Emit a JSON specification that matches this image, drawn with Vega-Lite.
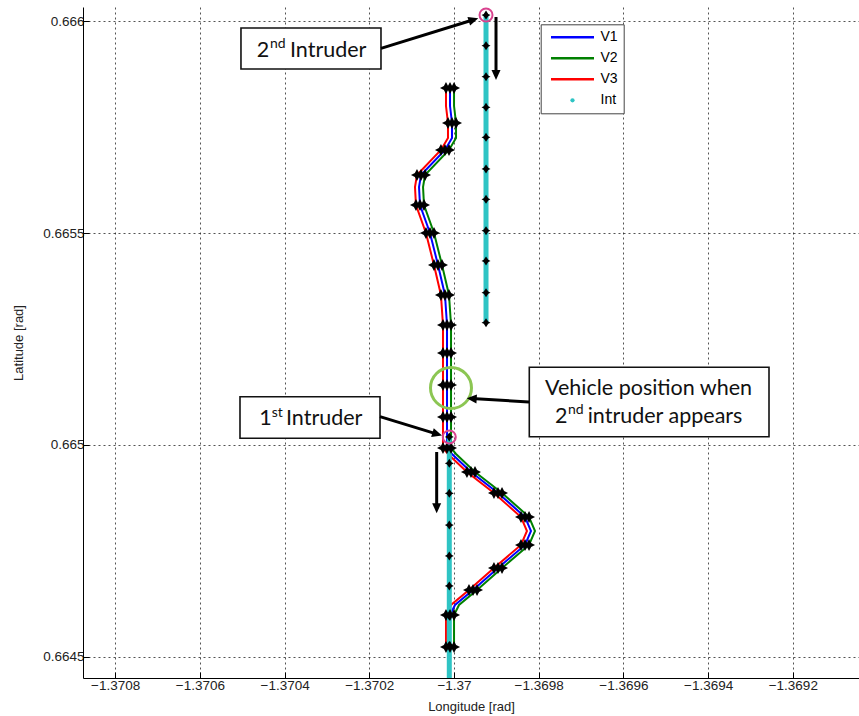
{
  "$schema": "https://vega.github.io/schema/vega-lite/v6.json",
  "width": 776,
  "height": 671,
  "autosize": {"type": "none"},
  "padding": {"left": 83, "top": 7, "right": 0, "bottom": 38},
  "background": "white",
  "datasets": {
    "veh": [
      {"s":"V1","i":1,"lon":-1.3700094,"lat":0.6645234,"mk":1},
      {"s":"V1","i":2,"lon":-1.3700094,"lat":0.6645989,"mk":1},
      {"s":"V1","i":3,"lon":-1.3699976,"lat":0.6646225,"mk":0},
      {"s":"V1","i":4,"lon":-1.3699551,"lat":0.6646579,"mk":1},
      {"s":"V1","i":5,"lon":-1.3698961,"lat":0.6647098,"mk":1},
      {"s":"V1","i":6,"lon":-1.3698323,"lat":0.664764,"mk":1},
      {"s":"V1","i":7,"lon":-1.3698182,"lat":0.6647971,"mk":0},
      {"s":"V1","i":8,"lon":-1.3698323,"lat":0.6648301,"mk":1},
      {"s":"V1","i":9,"lon":-1.3698961,"lat":0.6648867,"mk":1},
      {"s":"V1","i":10,"lon":-1.3699599,"lat":0.6649363,"mk":1},
      {"s":"V1","i":11,"lon":-1.3700047,"lat":0.6649788,"mk":0},
      {"s":"V1","i":12,"lon":-1.3700165,"lat":0.6649929,"mk":1},
      {"s":"V1","i":13,"lon":-1.3700165,"lat":0.6650661,"mk":1},
      {"s":"V1","i":14,"lon":-1.3700165,"lat":0.6651416,"mk":1},
      {"s":"V1","i":15,"lon":-1.3700165,"lat":0.6652171,"mk":1},
      {"s":"V1","i":16,"lon":-1.3700165,"lat":0.6652832,"mk":1},
      {"s":"V1","i":17,"lon":-1.3700213,"lat":0.6653539,"mk":1},
      {"s":"V1","i":18,"lon":-1.3700378,"lat":0.6654247,"mk":1},
      {"s":"V1","i":19,"lon":-1.3700567,"lat":0.6655002,"mk":1},
      {"s":"V1","i":20,"lon":-1.3700803,"lat":0.6655663,"mk":1},
      {"s":"V1","i":21,"lon":-1.3700826,"lat":0.6656088,"mk":0},
      {"s":"V1","i":22,"lon":-1.3700779,"lat":0.6656371,"mk":1},
      {"s":"V1","i":23,"lon":-1.3700213,"lat":0.6656961,"mk":1},
      {"s":"V1","i":24,"lon":-1.3700047,"lat":0.6657244,"mk":0},
      {"s":"V1","i":25,"lon":-1.3700047,"lat":0.6657598,"mk":1},
      {"s":"V1","i":26,"lon":-1.3700094,"lat":0.6657999,"mk":0},
      {"s":"V1","i":27,"lon":-1.3700094,"lat":0.6658424,"mk":1},
      {"s":"V2","i":1,"lon":-1.3699999,"lat":0.6645234,"mk":1},
      {"s":"V2","i":2,"lon":-1.3699999,"lat":0.6645989,"mk":1},
      {"s":"V2","i":3,"lon":-1.3699881,"lat":0.6646225,"mk":0},
      {"s":"V2","i":4,"lon":-1.3699456,"lat":0.6646579,"mk":1},
      {"s":"V2","i":5,"lon":-1.3698866,"lat":0.6647098,"mk":1},
      {"s":"V2","i":6,"lon":-1.3698228,"lat":0.664764,"mk":1},
      {"s":"V2","i":7,"lon":-1.3698087,"lat":0.6647971,"mk":0},
      {"s":"V2","i":8,"lon":-1.3698228,"lat":0.6648301,"mk":1},
      {"s":"V2","i":9,"lon":-1.3698866,"lat":0.6648867,"mk":1},
      {"s":"V2","i":10,"lon":-1.3699504,"lat":0.6649363,"mk":1},
      {"s":"V2","i":11,"lon":-1.3699952,"lat":0.6649788,"mk":0},
      {"s":"V2","i":12,"lon":-1.370007,"lat":0.6649929,"mk":1},
      {"s":"V2","i":13,"lon":-1.370007,"lat":0.6650661,"mk":1},
      {"s":"V2","i":14,"lon":-1.370007,"lat":0.6651416,"mk":1},
      {"s":"V2","i":15,"lon":-1.370007,"lat":0.6652171,"mk":1},
      {"s":"V2","i":16,"lon":-1.370007,"lat":0.6652832,"mk":1},
      {"s":"V2","i":17,"lon":-1.3700118,"lat":0.6653539,"mk":1},
      {"s":"V2","i":18,"lon":-1.3700283,"lat":0.6654247,"mk":1},
      {"s":"V2","i":19,"lon":-1.3700472,"lat":0.6655002,"mk":1},
      {"s":"V2","i":20,"lon":-1.3700708,"lat":0.6655663,"mk":1},
      {"s":"V2","i":21,"lon":-1.3700731,"lat":0.6656088,"mk":0},
      {"s":"V2","i":22,"lon":-1.3700684,"lat":0.6656371,"mk":1},
      {"s":"V2","i":23,"lon":-1.3700118,"lat":0.6656961,"mk":1},
      {"s":"V2","i":24,"lon":-1.3699952,"lat":0.6657244,"mk":0},
      {"s":"V2","i":25,"lon":-1.3699952,"lat":0.6657598,"mk":1},
      {"s":"V2","i":26,"lon":-1.3699999,"lat":0.6657999,"mk":0},
      {"s":"V2","i":27,"lon":-1.3699999,"lat":0.6658424,"mk":1},
      {"s":"V3","i":1,"lon":-1.3700189,"lat":0.6645234,"mk":1},
      {"s":"V3","i":2,"lon":-1.3700189,"lat":0.6645989,"mk":1},
      {"s":"V3","i":3,"lon":-1.3700071,"lat":0.6646225,"mk":0},
      {"s":"V3","i":4,"lon":-1.3699646,"lat":0.6646579,"mk":1},
      {"s":"V3","i":5,"lon":-1.3699056,"lat":0.6647098,"mk":1},
      {"s":"V3","i":6,"lon":-1.3698418,"lat":0.664764,"mk":1},
      {"s":"V3","i":7,"lon":-1.3698277,"lat":0.6647971,"mk":0},
      {"s":"V3","i":8,"lon":-1.3698418,"lat":0.6648301,"mk":1},
      {"s":"V3","i":9,"lon":-1.3699056,"lat":0.6648867,"mk":1},
      {"s":"V3","i":10,"lon":-1.3699694,"lat":0.6649363,"mk":1},
      {"s":"V3","i":11,"lon":-1.3700142,"lat":0.6649788,"mk":0},
      {"s":"V3","i":12,"lon":-1.370026,"lat":0.6649929,"mk":1},
      {"s":"V3","i":13,"lon":-1.370026,"lat":0.6650661,"mk":1},
      {"s":"V3","i":14,"lon":-1.370026,"lat":0.6651416,"mk":1},
      {"s":"V3","i":15,"lon":-1.370026,"lat":0.6652171,"mk":1},
      {"s":"V3","i":16,"lon":-1.370026,"lat":0.6652832,"mk":1},
      {"s":"V3","i":17,"lon":-1.3700308,"lat":0.6653539,"mk":1},
      {"s":"V3","i":18,"lon":-1.3700473,"lat":0.6654247,"mk":1},
      {"s":"V3","i":19,"lon":-1.3700662,"lat":0.6655002,"mk":1},
      {"s":"V3","i":20,"lon":-1.3700898,"lat":0.6655663,"mk":1},
      {"s":"V3","i":21,"lon":-1.3700921,"lat":0.6656088,"mk":0},
      {"s":"V3","i":22,"lon":-1.3700874,"lat":0.6656371,"mk":1},
      {"s":"V3","i":23,"lon":-1.3700308,"lat":0.6656961,"mk":1},
      {"s":"V3","i":24,"lon":-1.3700142,"lat":0.6657244,"mk":0},
      {"s":"V3","i":25,"lon":-1.3700142,"lat":0.6657598,"mk":1},
      {"s":"V3","i":26,"lon":-1.3700189,"lat":0.6657999,"mk":0},
      {"s":"V3","i":27,"lon":-1.3700189,"lat":0.6658424,"mk":1}
    ],
    "intr": [
      {"s":"Int","t":"I2","i":1,"lon":-1.3699244,"lat":0.6660146,"mk":1},
      {"s":"Int","t":"I2","i":2,"lon":-1.3699244,"lat":0.6659422,"mk":1},
      {"s":"Int","t":"I2","i":3,"lon":-1.3699244,"lat":0.665869,"mk":1},
      {"s":"Int","t":"I2","i":4,"lon":-1.3699244,"lat":0.6657968,"mk":1},
      {"s":"Int","t":"I2","i":5,"lon":-1.3699244,"lat":0.6657261,"mk":1},
      {"s":"Int","t":"I2","i":6,"lon":-1.3699244,"lat":0.6656513,"mk":1},
      {"s":"Int","t":"I2","i":7,"lon":-1.3699244,"lat":0.6655798,"mk":1},
      {"s":"Int","t":"I2","i":8,"lon":-1.3699244,"lat":0.6655057,"mk":1},
      {"s":"Int","t":"I2","i":9,"lon":-1.3699244,"lat":0.6654342,"mk":1},
      {"s":"Int","t":"I2","i":10,"lon":-1.3699244,"lat":0.6653594,"mk":1},
      {"s":"Int","t":"I2","i":11,"lon":-1.3699244,"lat":0.6652886,"mk":1},
      {"s":"Int","t":"I1","i":1,"lon":-1.3700111,"lat":0.6650189,"mk":1},
      {"s":"Int","t":"I1","i":2,"lon":-1.3700111,"lat":0.6649568,"mk":1},
      {"s":"Int","t":"I1","i":3,"lon":-1.3700111,"lat":0.664886,"mk":1},
      {"s":"Int","t":"I1","i":4,"lon":-1.3700111,"lat":0.6648112,"mk":1},
      {"s":"Int","t":"I1","i":5,"lon":-1.3700111,"lat":0.6647381,"mk":1},
      {"s":"Int","t":"I1","i":6,"lon":-1.3700111,"lat":0.6646673,"mk":1},
      {"s":"Int","t":"I1","i":7,"lon":-1.3700111,"lat":0.6645965,"mk":1},
      {"s":"Int","t":"I1","i":8,"lon":-1.3700111,"lat":0.6645269,"mk":1},
      {"s":"Int","t":"I1","i":9,"lon":-1.3700111,"lat":0.6644502,"mk":0}
    ],
    "circ": [
      {"lon":-1.3699244,"lat":0.6660146},
      {"lon":-1.3700111,"lat":0.6650189}
    ],
    "ell": [
      {"lon":-1.3700071,"lat":0.6651345}
    ],
    "boxes": [
      {"lon":-1.370503,"lon2":-1.3701724,"lat":0.6659839,"lat2":0.6658872},
      {"lon":-1.3705053,"lon2":-1.3701747,"lat":0.665114,"lat2":0.6650158},
      {"lon":-1.3698222,"lon2":-1.3692562,"lat":0.6651833,"lat2":0.6650196}
    ],
    "arrows": [
      {"a":"A1","lon":-1.3701724,"lat":0.665936,"lon2":-1.369954,"lat2":0.6660033,"tlon":-1.3699426,"tlat":0.6660068},
      {"a":"A2","lon":-1.3701747,"lat":0.6650668,"lon2":-1.3700397,"lat2":0.6650258,"tlon":-1.3700283,"tlat":0.6650224},
      {"a":"A3","lon":-1.3698229,"lat":0.6651015,"lon2":-1.3699582,"lat2":0.6651095,"tlon":-1.36997,"tlat":0.6651102},
      {"a":"A4","lon":-1.3699008,"lat":0.6660099,"lon2":-1.3699008,"lat2":0.6658731,"tlon":-1.3699008,"tlat":0.6658613},
      {"a":"A5","lon":-1.3700409,"lat":0.6649835,"lon2":-1.3700409,"lat2":0.6648506,"tlon":-1.3700409,"tlat":0.6648388}
    ],
    "txt": [
      {"t":"2","lon":-1.3704659,"lat":0.6659162},
      {"t":"Intruder","lon":-1.3703873,"lat":0.6659162},
      {"t":"1","lon":-1.3704597,"lat":0.6650472},
      {"t":"Intruder","lon":-1.3703967,"lat":0.6650472},
      {"t":"Vehicle position when","lon":-1.3697851,"lat":0.665118},
      {"t":"2","lon":-1.3697615,"lat":0.6650512},
      {"t":"intruder appears","lon":-1.3696843,"lat":0.6650512}
    ],
    "sup": [
      {"t":"nd","lon":-1.3704345,"lat":0.6659361},
      {"t":"st","lon":-1.3704305,"lat":0.6650654},
      {"t":"nd","lon":-1.3697308,"lat":0.6650731}
    ]
  },
  "encoding": {
    "x": {
      "field": "lon", "type": "quantitative", "title": "Longitude [rad]",
      "scale": {"domain": [-1.370876, -1.3690437], "nice": false, "zero": false},
      "axis": {"values": [-1.3708, -1.3706, -1.3704, -1.3702, -1.37, -1.3698, -1.3696, -1.3694, -1.3692], "format": ".5~g", "labelPadding": 6, "titlePadding": 9}
    },
    "y": {
      "field": "lat", "type": "quantitative", "title": "Latitude [rad]",
      "scale": {"domain": [0.6644502, 0.6660335], "nice": false, "zero": false},
      "axis": {"values": [0.6645, 0.665, 0.6655, 0.666], "format": ".4~g", "labelPadding": 5, "titlePadding": 17}
    }
  },
  "layer": [
    {
      "data": {"name": "veh"},
      "mark": {"type": "line", "strokeWidth": 2},
      "encoding": {
        "color": {
          "field": "s", "type": "nominal",
          "scale": {"domain": ["V1", "V2", "V3", "Int"], "range": ["#0000ff", "#008000", "#ff0000", "#2ec4c4"]},
          "legend": {
            "orient": "none", "legendX": 457.7, "legendY": 17.3, "title": null,
            "symbolType": "stroke", "symbolStrokeWidth": 2.5, "symbolOffset": 18.8,
            "labelFont": "Liberation Sans", "labelFontSize": 14, "labelColor": "#000", "labelOffset": 21,
            "strokeColor": "#444", "fillColor": "white", "padding": 6, "rowPadding": 7,
            "encode": {"symbols": {"update": {
              "shape": {"signal": "datum.value === 'Int' ? 'circle' : 'stroke'"},
              "size": {"signal": "datum.value === 'Int' ? 18 : 1849"},
              "fill": {"signal": "datum.value === 'Int' ? '#2ec4c4' : 'transparent'"},
              "strokeWidth": {"signal": "datum.value === 'Int' ? 0 : 2.5"}
            }}}
          }
        },
        "order": {"field": "i", "type": "quantitative"}
      }
    },
    {
      "data": {"name": "intr"},
      "mark": {"type": "line", "strokeWidth": 5},
      "encoding": {
        "color": {"field": "s", "type": "nominal"},
        "detail": {"field": "t", "type": "nominal"},
        "order": {"field": "i", "type": "quantitative"}
      }
    },
    {
      "data": {"name": "veh"},
      "transform": [{"filter": "datum.mk == 1"}],
      "mark": {"type": "point", "filled": true, "color": "#000", "opacity": 1, "size": 144,
               "shape": "M0,-1L0.35,-0.35L1,0L0.35,0.35L0,1L-0.35,0.35L-1,0L-0.35,-0.35Z"}
    },
    {
      "data": {"name": "intr"},
      "transform": [{"filter": "datum.mk == 1"}],
      "mark": {"type": "point", "filled": true, "color": "#000", "opacity": 1, "size": 81,
               "shape": "M0,-1L0.5,-0.25L1,0L0.5,0.25L0,1L-0.5,0.25L-1,0L-0.5,-0.25Z"}
    },
    {
      "data": {"name": "circ"},
      "mark": {"type": "point", "shape": "circle", "filled": false, "stroke": "#d9438f", "strokeWidth": 2, "size": 169, "opacity": 1}
    },
    {
      "data": {"name": "ell"},
      "mark": {"type": "point", "shape": "circle", "filled": false, "stroke": "#8cc653", "strokeWidth": 3, "size": 1681, "opacity": 1}
    },
    {
      "data": {"name": "boxes"},
      "mark": {"type": "rect", "fill": "white", "stroke": "#111", "strokeWidth": 1.6},
      "encoding": {
        "x2": {"field": "lon2"},
        "y2": {"field": "lat2"}
      }
    },
    {
      "data": {"name": "arrows"},
      "mark": {"type": "rule", "color": "#000", "strokeWidth": 3},
      "encoding": {
        "x2": {"field": "lon2"},
        "y2": {"field": "lat2"}
      }
    },
    {
      "data": {"name": "arrows"},
      "transform": [{"filter": "datum.a == 'A1'"}],
      "mark": {"type": "point", "filled": true, "color": "#000", "opacity": 1, "size": 400, "angle": 72.5, "shape": "M0,0L-0.45,1L0.45,1Z"},
      "encoding": {"x": {"field": "tlon", "type": "quantitative"}, "y": {"field": "tlat", "type": "quantitative"}}
    },
    {
      "data": {"name": "arrows"},
      "transform": [{"filter": "datum.a == 'A2'"}],
      "mark": {"type": "point", "filled": true, "color": "#000", "opacity": 1, "size": 400, "angle": 106.9, "shape": "M0,0L-0.45,1L0.45,1Z"},
      "encoding": {"x": {"field": "tlon", "type": "quantitative"}, "y": {"field": "tlat", "type": "quantitative"}}
    },
    {
      "data": {"name": "arrows"},
      "transform": [{"filter": "datum.a == 'A3'"}],
      "mark": {"type": "point", "filled": true, "color": "#000", "opacity": 1, "size": 400, "angle": 273.4, "shape": "M0,0L-0.45,1L0.45,1Z"},
      "encoding": {"x": {"field": "tlon", "type": "quantitative"}, "y": {"field": "tlat", "type": "quantitative"}}
    },
    {
      "data": {"name": "arrows"},
      "transform": [{"filter": "datum.a == 'A4' || datum.a == 'A5'"}],
      "mark": {"type": "point", "filled": true, "color": "#000", "opacity": 1, "size": 400, "angle": 180, "shape": "M0,0L-0.45,1L0.45,1Z"},
      "encoding": {"x": {"field": "tlon", "type": "quantitative"}, "y": {"field": "tlat", "type": "quantitative"}}
    },
    {
      "data": {"name": "txt"},
      "mark": {"type": "text", "align": "left", "baseline": "alphabetic", "font": "Lato", "fontSize": 21.5, "color": "#111"},
      "encoding": {"text": {"field": "t"}}
    },
    {
      "data": {"name": "sup"},
      "mark": {"type": "text", "align": "left", "baseline": "alphabetic", "font": "Lato", "fontSize": 14, "color": "#111"},
      "encoding": {"text": {"field": "t"}}
    }
  ],
  "config": {
    "view": {"stroke": null},
    "axis": {
      "domainColor": "#000", "domainWidth": 1, "tickColor": "#000", "tickSize": -6, "tickWidth": 1,
      "grid": true, "gridColor": "#000", "gridDash": [2, 3], "gridWidth": 0.8, "gridOpacity": 0.85,
      "labelFont": "Liberation Sans", "labelFontSize": 13.5, "labelColor": "#222",
      "titleFont": "Liberation Sans", "titleFontSize": 13, "titleFontWeight": "normal", "titleColor": "#222"
    }
  }
}
